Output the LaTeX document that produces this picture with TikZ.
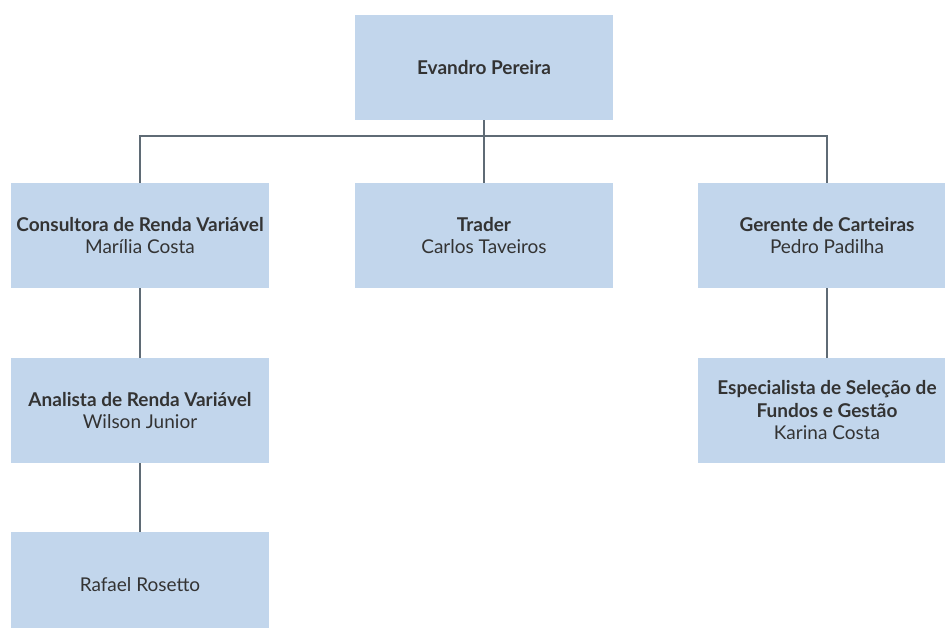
\documentclass[tikz,border=0pt]{standalone}
\usepackage{fontspec}
\setmainfont{Lato}
\usepackage{tikz}

\definecolor{boxblue}{RGB}{194,214,236}
\definecolor{linegray}{RGB}{95,107,117}
\definecolor{textgray}{RGB}{51,51,51}

\begin{document}
\begin{tikzpicture}
[
  x=1pt, y=-1pt,
	person/.style={fill=boxblue,minimum width=258pt,minimum height=105pt,inner sep=0pt,
		align=center,text=textgray,font=\fontsize{19}{22.5}\selectfont},
	link/.style={draw=linegray,line width=1.6pt}
]

\useasboundingbox (0,0) rectangle (945,628);

\node[person] (evandro) at (484,67.5) {\textbf{Evandro Pereira}};

\node[person] (consultora) at (140,235.5) {\textbf{Consultora de Renda Variável}\\Marília Costa};
\node[person] (trader) at (484,235.5) {\textbf{Trader}\\Carlos Taveiros};
\node[person] (gerente) at (827,235.5) {\textbf{Gerente de Carteiras}\\Pedro Padilha};

\node[person] (analista) at (140,410.5) {\textbf{Analista de Renda Variável}\\Wilson Junior};
\node[person] (especialista) at (827,410.5) {\textbf{Especialista de Seleção de}\\\textbf{Fundos e Gestão}\\Karina Costa};

\node[person] (rafael) at (140,584.5) {Rafael Rosetto};

\coordinate (bus) at (484,136);

\draw [link] (evandro.south) -- (trader.north);
\draw [link] (consultora.north) |- (bus) -| (gerente.north);
\draw [link] (consultora.south) -- (analista.north);
\draw [link] (analista.south) -- (rafael.north);
\draw [link] (gerente.south) -- (especialista.north);

\end{tikzpicture}
\end{document}
